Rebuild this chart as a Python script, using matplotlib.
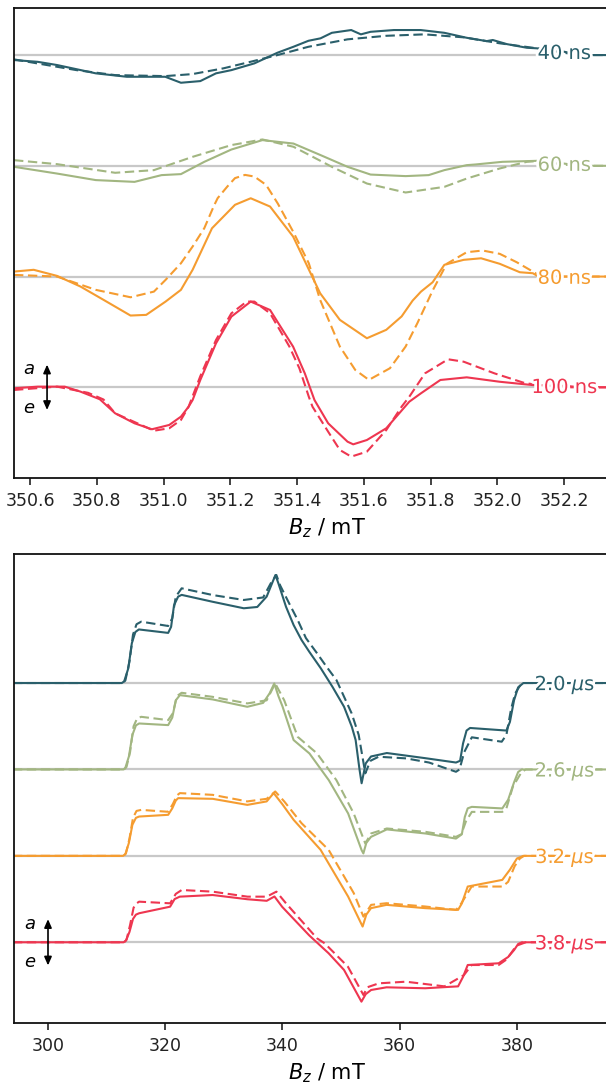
import matplotlib
matplotlib.use("Agg")
import matplotlib.pyplot as plt
import matplotlib.patheffects as pe
from matplotlib.transforms import ScaledTranslation
from matplotlib.patches import FancyArrowPatch
import numpy as np

# ---- colours (one per delay) ----
colors = ["#2a5f6b", "#a2b681", "#f59c30", "#ee3650"]

# ---- top panel: short delays, field in mT, signal offset per trace = 1 ----
top_labels = ["40 ns", "60 ns", "80 ns", "100 ns"]

x40s = [350.552, 350.623, 350.681, 350.797, 350.890, 351.005, 351.052, 351.110, 351.157, 351.203,
        351.272, 351.341, 351.389, 351.434, 351.470, 351.504, 351.562, 351.591, 351.620, 351.690,
        351.770, 351.841, 351.908, 351.968, 351.986, 352.028, 352.088, 352.118, 352.20, 352.25, 352.50]
y40s = [-0.045, -0.061, -0.090, -0.165, -0.196, -0.196, -0.250, -0.235, -0.165, -0.136,
        -0.075, 0.021, 0.075, 0.129, 0.151, 0.201, 0.226, 0.187, 0.210, 0.226,
        0.226, 0.201, 0.156, 0.126, 0.136, 0.099, 0.066, 0.061, 0.03, 0.0, 0.0]
x40d = [350.552, 350.739, 350.855, 351.005, 351.086, 351.179, 351.260, 351.341, 351.434, 351.551,
        351.667, 351.782, 351.899, 352.007, 352.106, 352.20, 352.25, 352.50]
y40d = [-0.039, -0.136, -0.181, -0.190, -0.172, -0.120, -0.061, 0.0, 0.075, 0.142,
        0.174, 0.187, 0.160, 0.106, 0.066, 0.02, 0.0, 0.0]

x60s = [350.552, 350.681, 350.797, 350.913, 350.994, 351.052, 351.122, 351.203, 351.296, 351.389,
        351.470, 351.551, 351.620, 351.725, 351.794, 351.841, 351.908, 351.934, 352.015, 352.118,
        352.20, 352.25, 352.50]
y60s = [-0.009, -0.070, -0.129, -0.145, -0.084, -0.075, 0.036, 0.147, 0.232, 0.201,
        0.097, -0.009, -0.079, -0.093, -0.084, -0.039, 0.006, 0.012, 0.036, 0.045,
        0.02, 0.0, 0.0]
x60d = [350.552, 350.681, 350.855, 350.971, 351.087, 351.203, 351.296, 351.389, 351.504, 351.609,
        351.725, 351.841, 351.908, 352.007, 352.088, 352.118, 352.20, 352.25, 352.50]
y60d = [0.051, 0.015, -0.063, -0.039, 0.081, 0.187, 0.238, 0.172, -0.009, -0.160,
        -0.241, -0.190, -0.115, -0.024, 0.036, 0.042, 0.01, 0.0, 0.0]

x80s = [350.552, 350.611, 350.681, 350.751, 350.820, 350.901, 350.948, 351.006, 351.052, 351.087,
        351.145, 351.214, 351.261, 351.319, 351.388, 351.469, 351.528, 351.609, 351.667, 351.713,
        351.746, 351.771, 351.806, 351.841, 351.899, 351.951, 352.007, 352.067, 352.106, 352.118,
        352.20, 352.25, 352.50]
y80s = [0.045, 0.061, 0.006, -0.090, -0.210, -0.352, -0.346, -0.226, -0.120, 0.061,
        0.436, 0.648, 0.707, 0.632, 0.361, -0.151, -0.391, -0.557, -0.481, -0.360,
        -0.217, -0.136, -0.051, 0.106, 0.151, 0.165, 0.115, 0.039, 0.030, 0.009,
        0.0, 0.0, 0.0]
x80d = [350.552, 350.681, 350.797, 350.901, 350.971, 351.006, 351.052, 351.087, 351.122, 351.151,
        351.162, 351.191, 351.214, 351.244, 351.272, 351.307, 351.342, 351.388, 351.435, 351.469,
        351.528, 351.574, 351.615, 351.678, 351.725, 351.760, 351.806, 351.848, 351.908, 351.956,
        352.007, 352.058, 352.118, 352.20, 352.25, 352.50]
y80d = [0.015, 0.0, -0.120, -0.187, -0.136, -0.030, 0.120, 0.271, 0.437, 0.640,
        0.708, 0.813, 0.889, 0.918, 0.903, 0.828, 0.660, 0.406, 0.120, -0.211,
        -0.632, -0.843, -0.933, -0.828, -0.632, -0.422, -0.126, 0.115, 0.220, 0.235,
        0.205, 0.129, 0.024, 0.0, 0.0, 0.0]

x100s = [350.552, 350.623, 350.704, 350.751, 350.809, 350.855, 350.913, 350.965, 351.017, 351.052,
         351.075, 351.087, 351.110, 351.157, 351.203, 351.261, 351.319, 351.388, 351.423, 351.452,
         351.493, 351.551, 351.568, 351.609, 351.667, 351.736, 351.771, 351.829, 351.908, 352.007,
         352.106, 352.20, 352.25, 352.50]
y100s = [-0.009, 0.006, 0.006, -0.039, -0.108, -0.235, -0.325, -0.379, -0.340, -0.265,
         -0.175, -0.115, 0.066, 0.397, 0.638, 0.774, 0.698, 0.367, 0.126, -0.115,
         -0.325, -0.491, -0.515, -0.476, -0.370, -0.130, -0.054, 0.066, 0.090, 0.050,
         0.020, 0.014, 0.0, 0.0]
x100d = [350.552, 350.681, 350.774, 350.820, 350.855, 350.971, 351.017, 351.052, 351.075, 351.110,
         351.157, 351.203, 351.249, 351.272, 351.319, 351.377, 351.407, 351.435, 351.446, 351.493,
         351.528, 351.562, 351.609, 351.667, 351.713, 351.736, 351.783, 351.852, 351.899, 351.991,
         352.084, 352.20, 352.25, 352.50]
y100d = [-0.024, 0.006, -0.050, -0.110, -0.235, -0.392, -0.370, -0.295, -0.175, 0.100,
         0.427, 0.668, 0.774, 0.774, 0.668, 0.367, 0.170, -0.085, -0.175, -0.401,
         -0.566, -0.626, -0.581, -0.386, -0.175, -0.085, 0.126, 0.253, 0.231, 0.126,
         0.036, 0.0, 0.0, 0.0]

# ---- bottom panel: long delays ----
bot_labels = ["2.0 $\\mu$s", "2.6 $\\mu$s", "3.2 $\\mu$s", "3.8 $\\mu$s"]

x20s = [294, 312.6, 313.0, 313.7, 314.3, 314.9, 315.5, 320.5, 321.0, 321.5, 322.2, 322.8, 328.1,
        333.4, 335.7, 337.3, 338.2, 338.8, 339.3, 340.6, 341.9, 343.25, 344.56, 346.54, 348.52,
        350.5, 351.83, 352.48, 353.14, 353.5, 354.2, 355.1, 357.8, 364.4, 369.6, 370.3, 370.8,
        371.4, 372.0, 378.2, 378.8, 379.5, 380.2, 381.1, 402]
y20s = [0, 0, 0.02, 0.17, 0.46, 0.59, 0.62, 0.58, 0.65, 0.90, 1.00, 1.02, 0.94,
        0.865, 0.88, 1.00, 1.15, 1.25, 1.154, 0.883, 0.671, 0.498, 0.363, 0.170, -0.043,
        -0.274, -0.506, -0.66, -1.00, -1.16, -0.93, -0.85, -0.81, -0.87, -0.92, -0.90, -0.70,
        -0.55, -0.52, -0.55, -0.45, -0.20, -0.05, 0.0, 0]
x20d = [294, 312.8, 313.2, 313.9, 314.5, 315.1, 315.9, 320.5, 321.2, 321.8, 322.8, 328.1, 333.4,
        336.7, 338.0, 338.96, 339.6, 341.3, 342.6, 344.0, 345.9, 347.5, 349.2, 351.8, 353.0,
        354.13, 355.0, 356.4, 361.1, 365.0, 369.6, 370.2, 371.0, 372.3, 377.4, 378.2, 379.0,
        379.7, 380.8, 402]
y20d = [0, 0, 0.03, 0.25, 0.56, 0.68, 0.71, 0.66, 0.75, 1.00, 1.096, 1.018, 0.961,
        0.99, 1.154, 1.25, 1.13, 0.90, 0.729, 0.52, 0.344, 0.19, 0.035, -0.351, -0.60,
        -1.045, -0.90, -0.853, -0.872, -0.92, -1.027, -1.00, -0.80, -0.628, -0.679, -0.60, -0.30,
        -0.119, 0.0, 0]

x26s = [294, 312.9, 313.2, 313.8, 314.4, 315.0, 315.55, 320.5, 321.2, 321.8, 322.5, 328.1, 334.0,
        336.7, 337.8, 338.6, 339.3, 340.0, 341.9, 344.6, 347.9, 351.2, 353.5, 353.8, 354.3, 355.1,
        357.8, 364.4, 369.6, 370.6, 371.1, 371.6, 372.3, 377.5, 378.5, 379.5, 380.2, 380.8, 402]
y26s = [0, 0, 0.02, 0.15, 0.40, 0.51, 0.532, 0.513, 0.60, 0.80, 0.86, 0.81, 0.725,
        0.77, 0.88, 0.995, 0.85, 0.73, 0.34, 0.185, -0.124, -0.509, -0.934, -0.972, -0.85, -0.78,
        -0.694, -0.741, -0.80, -0.75, -0.55, -0.45, -0.433, -0.451, -0.35, -0.15, -0.03, 0.0, 0]
x26d = [294, 313.0, 313.4, 314.0, 314.6, 315.2, 315.9, 320.5, 321.3, 322.0, 322.8, 328.1, 334.0,
        337.3, 338.76, 340.3, 342.6, 345.9, 349.2, 352.15, 354.13, 355.1, 357.8, 364.4, 369.6,
        370.5, 371.3, 372.3, 377.5, 378.2, 379.3, 380.8, 381.5, 402]
y26d = [0, 0, 0.03, 0.20, 0.50, 0.59, 0.609, 0.571, 0.65, 0.85, 0.887, 0.84, 0.764,
        0.80, 0.995, 0.80, 0.377, 0.185, -0.124, -0.509, -0.857, -0.741, -0.683, -0.722, -0.78,
        -0.75, -0.60, -0.491, -0.491, -0.45, -0.20, -0.03, 0.0, 0]

x32s = [294, 312.8, 313.2, 313.8, 314.4, 315.0, 315.55, 320.5, 321.2, 321.8, 322.2, 328.1, 334.0,
        337.3, 338.5, 339.95, 341.9, 346.5, 351.2, 353.67, 354.3, 355.1, 357.75, 364.35, 369.96,
        370.6, 371.6, 377.5, 378.8, 380.0, 381.1, 402]
y32s = [0, 0, 0.02, 0.15, 0.36, 0.44, 0.455, 0.475, 0.55, 0.64, 0.668, 0.66, 0.59,
        0.63, 0.726, 0.60, 0.417, 0.07, -0.471, -0.818, -0.68, -0.605, -0.567, -0.605, -0.625,
        -0.55, -0.355, -0.278, -0.16, -0.03, 0.0, 0]
x32d = [294, 312.9, 313.3, 313.9, 314.5, 315.1, 315.9, 320.5, 321.3, 322.0, 322.5, 328.1, 334.0,
        337.3, 338.76, 340.3, 343.25, 347.87, 352.15, 353.81, 355.12, 357.75, 364.35, 369.62,
        370.5, 372.27, 377.54, 378.5, 379.6, 380.5, 381.2, 402]
y32d = [0, 0, 0.03, 0.20, 0.44, 0.52, 0.532, 0.51, 0.60, 0.70, 0.726, 0.706, 0.63,
        0.66, 0.745, 0.63, 0.378, 0.07, -0.43, -0.703, -0.567, -0.548, -0.586, -0.625,
        -0.55, -0.355, -0.355, -0.30, -0.12, -0.03, 0.0, 0]

x38s = [294, 312.9, 313.3, 313.9, 314.5, 315.0, 315.55, 320.83, 321.6, 322.47, 328.08, 334.02,
        337.31, 338.63, 339.95, 344.56, 347.87, 350.5, 353.47, 354.2, 355.12, 357.75, 364.35,
        369.96, 370.8, 371.6, 376.87, 378.5, 379.52, 380.2, 380.83, 402]
y38s = [0, 0, 0.02, 0.12, 0.27, 0.32, 0.336, 0.412, 0.50, 0.528, 0.547, 0.498,
        0.48, 0.53, 0.41, 0.08, -0.127, -0.32, -0.687, -0.60, -0.552, -0.521, -0.532,
        -0.51, -0.40, -0.263, -0.243, -0.17, -0.089, -0.02, 0.0, 0]
x38d = [294, 313.0, 313.4, 314.0, 314.6, 315.1, 315.55, 320.83, 321.8, 322.81, 328.08, 334.02,
        337.31, 338.96, 340.6, 345.89, 347.2, 351.16, 353.81, 354.5, 356.43, 361.06, 367.64,
        370.95, 372.27, 376.87, 378.2, 379.9, 381.5, 402]
y38d = [0, 0, 0.03, 0.20, 0.40, 0.45, 0.47, 0.451, 0.56, 0.605, 0.586, 0.528,
        0.528, 0.586, 0.451, 0.046, -0.012, -0.282, -0.61, -0.52, -0.475, -0.456, -0.51,
        -0.38, -0.263, -0.263, -0.20, -0.04, 0.0, 0]

top_solid = [(x40s, y40s), (x60s, y60s), (x80s, y80s), (x100s, y100s)]
top_dash = [(x40d, y40d), (x60d, y60d), (x80d, y80d), (x100d, y100d)]
bot_solid = [(x20s, y20s), (x26s, y26s), (x32s, y32s), (x38s, y38s)]
bot_dash = [(x20d, y20d), (x26d, y26d), (x32d, y32d), (x38d, y38d)]
offsets = [0, -1, -2, -3]

plt.rcParams["font.family"] = ["DejaVu Sans"]
plt.rcParams["mathtext.fontset"] = "dejavusans"

fig = plt.figure(figsize=(6.06, 10.86), dpi=100)
ax1 = fig.add_axes([14 / 606, 608 / 1086, 626 / 606, 470 / 1086])
ax2 = fig.add_axes([14 / 606, 63 / 1086, 626 / 606, 469 / 1086])


def panel(ax, solid, dash, labels, xlim, ylim, base_end, label_x, arrow_x, arrow_h, ae_x, ae_dy, ticks, fmt):
    ax.set_xlim(*xlim)
    ax.set_ylim(*ylim)
    for i in range(4):
        off = offsets[i]
        c = colors[i]
        ax.plot([xlim[0], base_end], [off, off], color="#c8c8c8", lw=1.6, zorder=1)
        xs, ys = solid[i]
        ax.plot(xs, np.array(ys) + off, color=c, lw=1.5, zorder=2)
        xd, yd = dash[i]
        ax.plot(xd, np.array(yd) + off, color=c, lw=1.5, ls=(0, (4.5, 2.2)), zorder=2)
        ly = np.interp(label_x, xs, ys) + off
        tr = ax.transData + ScaledTranslation(0, -5.2 / 72, fig.dpi_scale_trans)
        ax.text(label_x, ly, labels[i], color=c, fontsize=14, ha="center", va="baseline",
                transform=tr, zorder=4,
                path_effects=[pe.withStroke(linewidth=4, foreground="white")])
    # absorption / emission arrow
    arr = FancyArrowPatch((arrow_x, -3 - arrow_h), (arrow_x, -3 + arrow_h),
                          arrowstyle="<|-|>,head_length=5,head_width=2.2",
                          color="black", lw=1.2, mutation_scale=1, zorder=5)
    ax.add_patch(arr)
    ax.text(ae_x, -3 + ae_dy, "a", fontsize=13, style="italic", ha="center", va="center")
    ax.text(ae_x, -3 - ae_dy - 0.02, "e", fontsize=13, style="italic", ha="center", va="center")
    ax.set_yticks([])
    ax.set_xticks(ticks)
    ax.set_xticklabels([fmt % t for t in ticks])
    ax.tick_params(axis="x", direction="out", length=5, width=1.2, labelsize=12.5,
                   pad=5, colors="#222222")
    for s in ax.spines.values():
        s.set_linewidth(1.3)
        s.set_color("#111111")
    ax.set_xlabel("$B_z$ / mT", fontsize=15, labelpad=5)


panel(ax1, top_solid, top_dash, top_labels, (350.552, 352.427), (-3.819, 0.425),
      352.12, 352.2, 350.651, 0.23, 350.597, 0.165,
      [350.6, 350.8, 351.0, 351.2, 351.4, 351.6, 351.8, 352.0, 352.2], "%.1f")
panel(ax2, bot_solid, bot_dash, bot_labels, (294.2, 400.99), (-3.934, 1.493),
      380.8, 388.2, 300.0, 0.30, 296.93, 0.21,
      [300, 320, 340, 360, 380], "%d")

fig.savefig("out.png", dpi=100)
